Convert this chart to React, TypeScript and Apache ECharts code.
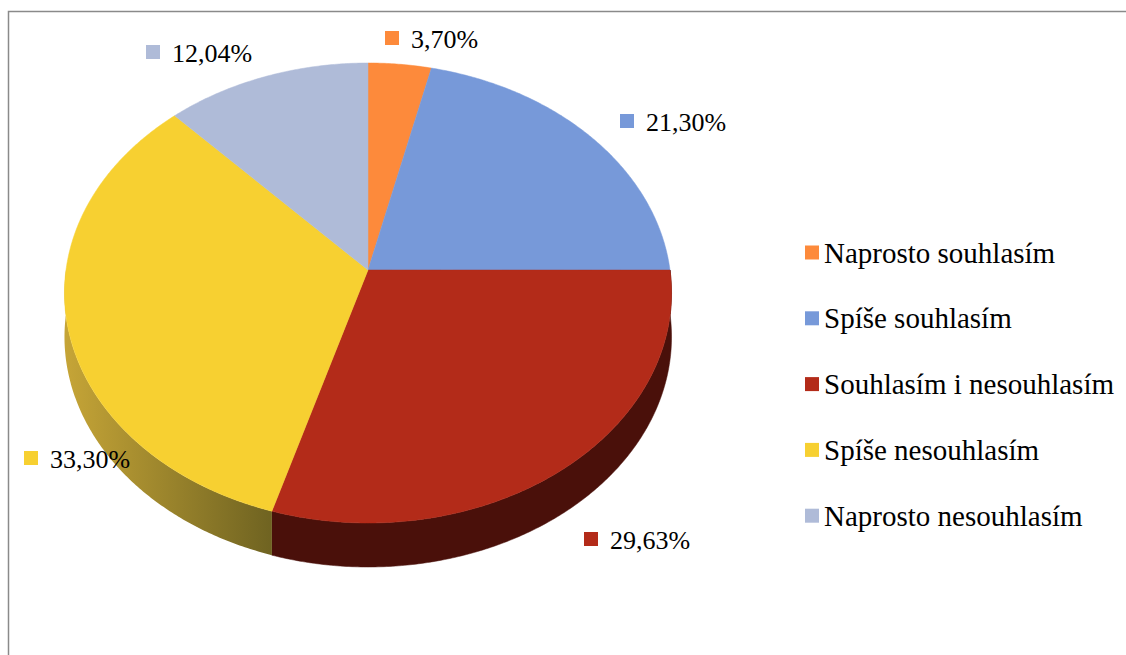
import React, { useEffect, useRef } from "react";
import * as echarts from "echarts";

const CATEGORIES = [
  "Naprosto souhlasím",
  "Spíše souhlasím",
  "Souhlasím i nesouhlasím",
  "Spíše nesouhlasím",
  "Naprosto nesouhlasím",
];
const VALUES = [3.7, 21.3, 29.63, 33.3, 12.04];

const COLORS = ["#FD8A3B", "#7799D9", "#B32B19", "#F7D031", "#AFBBD8"];
const SIDE_COLORS = ["#8A4A1F", "#3F5277", "#4A100A", "yellowGradient", "#606878"];

// layout of the perspective pie
const CX = 368;
const CY = 270;
const RX = 302;
const RY = 227.7;
const K = 0.1;
const DEPTH = 44;
// label anchors (marker centre) per slice
const LABEL_ANCHORS = [
  [392, 38],
  [627, 121],
  [591, 539],
  [31, 458],
  [153, 52],
];

function proj(phi: number, dy: number): number[] {
  const s = Math.sin(phi);
  const c = Math.cos(phi);
  const d = 1 + K * c;
  return [CX + (RX * s) / d, CY - (RY * c) / d + dy];
}

function arcPts(a0: number, a1: number, dy: number): number[][] {
  const n = Math.max(2, Math.ceil((a1 - a0) / (Math.PI / 360)));
  const pts: number[][] = [];
  for (let j = 0; j <= n; j++) {
    pts.push(proj(a0 + ((a1 - a0) * j) / n, dy));
  }
  return pts;
}

function fmt(v: number): string {
  return v.toFixed(2).replace(".", ",") + "%";
}

export default function App() {
  const ref = useRef<HTMLDivElement>(null);
  useEffect(() => {
    if (!ref.current) return;
    const chart = echarts.init(ref.current, undefined, { renderer: "svg" });
    const total = VALUES.reduce((a, b) => a + b, 0);

    const renderItem = (params: any, api: any) => {
      const i = params.seriesIndex;
      const v = api.value(0);
      let before = 0;
      for (let j = 0; j < i; j++) before += VALUES[j];
      const start = (before / total) * Math.PI * 2;
      const end = start + (v / total) * Math.PI * 2;
      const children: any[] = [];
      const s0 = Math.max(start, Math.PI / 2);
      const s1 = Math.min(end, (Math.PI * 3) / 2);
      if (s1 > s0) {
        const pts = arcPts(s0, s1, 0).concat(arcPts(s0, s1, DEPTH).reverse());
        const isGrad = SIDE_COLORS[i] === "yellowGradient";
        const fill = isGrad
          ? new echarts.graphic.LinearGradient(0, 0, 1, 0, [
              { offset: 0, color: "#C6A537" },
              { offset: 1, color: "#6F6321" },
            ])
          : SIDE_COLORS[i];
        children.push({
          type: "polygon",
          shape: { points: pts },
          style: { fill, stroke: isGrad ? null : SIDE_COLORS[i], lineWidth: 0.5 },
        });
      }
      const topPts = [[CX, CY]].concat(arcPts(start, end, 0));
      children.push({
        type: "polygon",
        shape: { points: topPts },
        style: { fill: COLORS[i], stroke: COLORS[i], lineWidth: 0.5 },
      });
      const [ax, ay] = LABEL_ANCHORS[i];
      children.push({
        type: "rect",
        shape: { x: ax - 7, y: ay - 7, width: 14, height: 14 },
        style: { fill: COLORS[i] },
      });
      return { type: "group", children };
    };

    const labelTexts = VALUES.map((v, i) => ({
      type: "text",
      silent: true,
      z: 100,
      x: LABEL_ANCHORS[i][0] + 19,
      y: LABEL_ANCHORS[i][1] + 1,
      style: {
        text: fmt(v),
        fill: "#000",
        fontSize: 26,
        fontFamily: "Liberation Serif",
        align: "left",
        verticalAlign: "middle",
      },
    }));

    chart.setOption({
      animation: false,
      backgroundColor: "#fff",
      textStyle: { fontFamily: "Liberation Serif" },
      graphic: [
        {
          type: "rect",
          silent: true,
          z: -10,
          shape: { x: 8.5, y: 11.5, width: 1200, height: 700 },
          style: { fill: "none", stroke: "#8a8a8a", lineWidth: 1.5 },
        },
        ...labelTexts,
      ],
      legend: {
        orient: "vertical",
        left: 800,
        top: 233,
        itemWidth: 14,
        itemHeight: 14,
        itemGap: 36.8,
        icon: "rect",
        selectedMode: false,
        data: CATEGORIES,
        textStyle: {
          fontSize: 29,
          fontFamily: "Liberation Serif",
          color: "#000",
        },
      },
      series: CATEGORIES.map((name, i) => ({
        type: "custom",
        name,
        coordinateSystem: "none",
        itemStyle: { color: COLORS[i] },
        renderItem,
        data: [[VALUES[i]]],
      })),
    });
    return () => chart.dispose();
  }, []);
  return (
    <div
      ref={ref}
      style={{ position: "absolute", left: 0, top: 0, width: 1126, height: 655 }}
    />
  );
}
